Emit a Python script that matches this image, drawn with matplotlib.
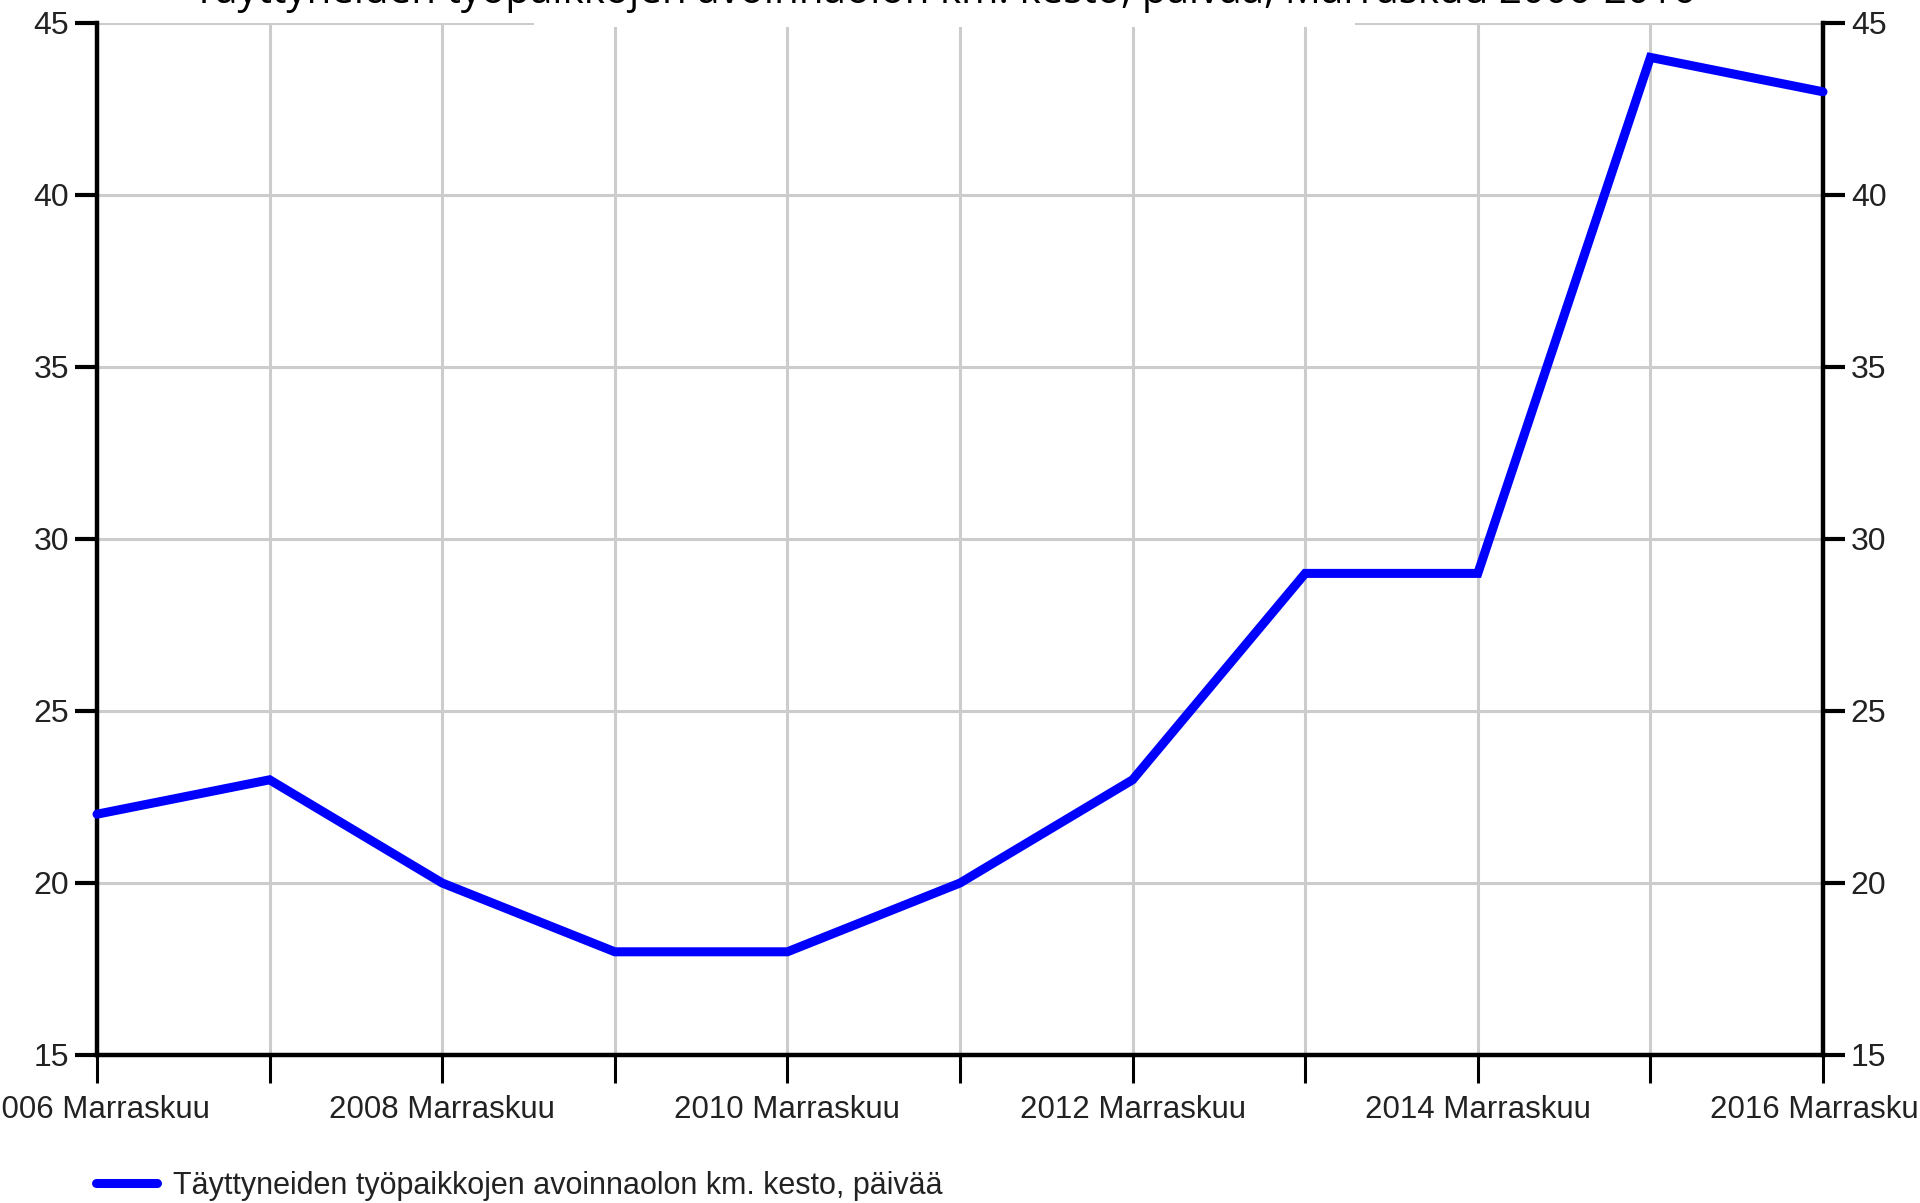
import matplotlib
matplotlib.use("Agg")
import matplotlib.pyplot as plt
import matplotlib.patches as mpatches

# Datos: täyttyneiden työpaikkojen avoinnaolon keskimääräinen kesto (päivää), marraskuu
vuodet = [2006, 2007, 2008, 2009, 2010, 2011, 2012, 2013, 2014, 2015, 2016]
kesto = [22, 23, 20, 18, 18, 20, 23, 29, 29, 44, 43]
tick_vuodet = [2006, 2008, 2010, 2012, 2014, 2016]
tick_nimet = [f"{v} Marraskuu" for v in tick_vuodet]
y_ticks = [15, 20, 25, 30, 35, 40, 45]
otsikko = "Täyttyneiden työpaikkojen avoinnaolon km. kesto, päivää, Marraskuu 2006-2016"
sarja_nimi = "Täyttyneiden työpaikkojen avoinnaolon km. kesto, päivää"

plt.rcParams['font.family'] = ['Liberation Sans', 'DejaVu Sans']

fig = plt.figure(figsize=(19.2, 12.03), dpi=100)
ax = fig.add_axes([97 / 1920, 1 - 1055 / 1203, (1823 - 97) / 1920, (1055 - 23) / 1203])

# Ruudukko
ax.set_xlim(vuodet[0], vuodet[-1])
ax.set_ylim(15, 45)
ax.set_xticks(vuodet, minor=True)
ax.set_xticks(tick_vuodet)
ax.set_xticklabels(tick_nimet)
ax.set_yticks(y_ticks)
ax.grid(True, which='both', color='#cccccc', linewidth=2.2)
ax.set_axisbelow(True)

# Sarja
line, = ax.plot(vuodet, kesto, color='#0000ff', linewidth=6.5, solid_joinstyle='miter',
                solid_capstyle='round', label=sarja_nimi, zorder=3, clip_on=False)

# Akselit
for s in ['left', 'right', 'bottom']:
    ax.spines[s].set_linewidth(3.2)
    ax.spines[s].set_color('black')
ax.spines['top'].set_visible(False)

ax.tick_params(axis='x', which='both', length=20, width=2.2, direction='out',
               labelsize=22.5, pad=9, colors='black', labelcolor='#222222')
ax.tick_params(axis='y', which='both', length=16, width=3, direction='out',
               labelsize=23, pad=4, right=True, labelright=True, labelcolor='#222222')

# Otsikko, osittain leikattu yläreunasta, valkoinen tausta
fig.patches.append(mpatches.Rectangle((534 / 1920, 1 - 27 / 1203), (1355 - 534) / 1920, 27 / 1203,
                                      transform=fig.transFigure, facecolor='white',
                                      edgecolor='none', zorder=5))
fig.text(0.492, 1 - 3 / 1203, otsikko, ha='center', va='baseline',
         fontsize=29, family=['Open Sans', 'DejaVu Sans'], color='black', zorder=6)

# Selite
fig.legend(handles=[line], loc='center left', bbox_to_anchor=(68 / 1920, 1 - 1186 / 1203),
           frameon=False, fontsize=22, handlelength=2.0, handletextpad=0.55,
           labelcolor='#222222')

fig.savefig("out.png", dpi=100, facecolor='white')
